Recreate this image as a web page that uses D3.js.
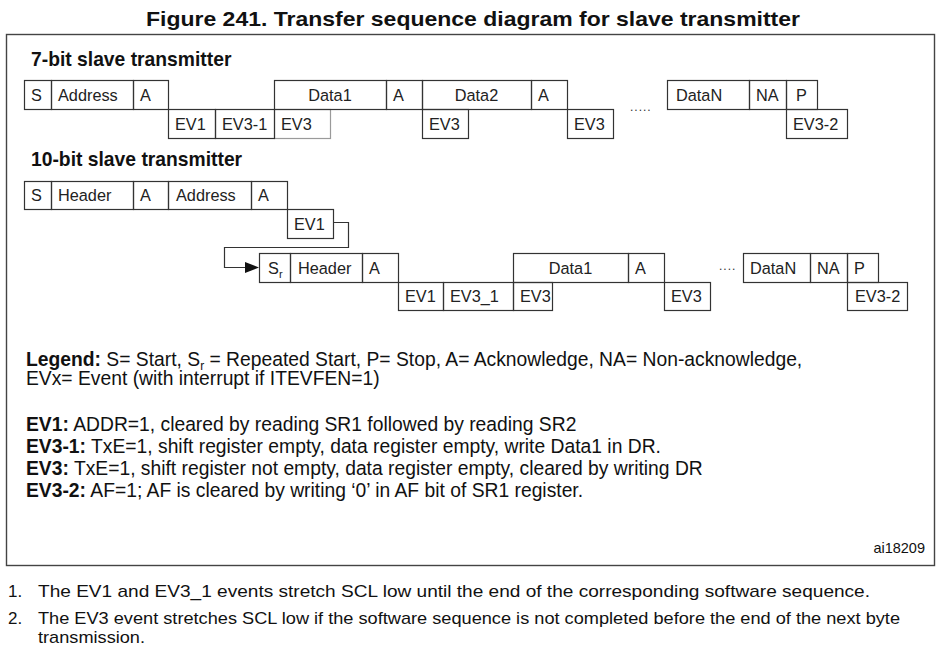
<!DOCTYPE html>
<html><head><meta charset="utf-8">
<script src="https://cdn.jsdelivr.net/npm/d3@7"></script>
<style>
body{margin:0;background:#fff;}
svg{display:block;}
.box{font-family:"Liberation Sans",Arial,sans-serif;font-size:16.3px;fill:#222;}
</style></head>
<body>
<svg id="c" width="941" height="649"></svg>
<script>
// ---------- data ----------
const titleText = "Figure 241. Transfer sequence diagram for slave transmitter";
const section7 = "7-bit slave transmitter";
const section10 = "10-bit slave transmitter";
// [label, start, end, align]  (start/end in diagram units along the bus timeline)
const seq7Bytes = [["S",24,51],["Address",51,133],["A",133,168],["Data1",274,386,"c"],["A",386,422],["Data2",422,531,"c"],["A",531,567],["DataN",667,749,"l9"],["NA",749,786],["P",786,817,"l10"]];
const seq7Events = [["EV3",274,330,"g"],["EV1",168,215],["EV3-1",215,274],["EV3",422,468],["EV3",567,613],["EV3-2",786,847]];
const seq10Bytes1 = [["S",24,51],["Header",51,133],["A",133,168],["Address",168,251,"l8"],["A",251,287]];
const seq10Events1 = [["EV1",287,333]];
const seq10Bytes2 = [["Sr",259,290,"l9"],["Header",290,362,"l8"],["A",362,398],["Data1",513,628,"c"],["A",628,664],["DataN",743,810],["NA",810,847],["P",847,878]];
const seq10Events2 = [["EV1",398,443],["EV3_1",443,513],["EV3",513,552],["EV3",664,710],["EV3-2",847,907,"l8"]];
const legendLines = [
  [["Legend:","b"],[" S= Start, S",""],["r","sub"],[" = Repeated Start, P= Stop, A= Acknowledge, NA= Non-acknowledge,","after"]],
  [["EVx= Event (with interrupt if ITEVFEN=1)",""]]
];
const eventLines = [
  ["EV1:"," ADDR=1, cleared by reading SR1 followed by reading SR2"],
  ["EV3-1:"," TxE=1, shift register empty, data register empty, write Data1 in DR."],
  ["EV3:"," TxE=1, shift register not empty, data register empty, cleared by writing DR"],
  ["EV3-2:"," AF=1; AF is cleared by writing \u20180\u2019 in AF bit of SR1 register."]
];
const figId = "ai18209";
const notes = [
  ["1.","The EV1 and EV3_1 events stretch SCL low until the end of the corresponding software sequence."],
  ["2.","The EV3 event stretches SCL low if the software sequence is not completed before the end of the next byte"],
  ["","transmission."]
];

// ---------- drawing ----------
const svg = d3.select("#c");
const x = d3.scaleLinear().domain([0,941]).range([0,941]);
const rowY = d3.scaleOrdinal().domain(["r1","r1e","r2","r2e","r3","r3e"])
  .range([[80,109],[109,138],[181,209],[209,238],[253,282],[282,310]]);

// title
svg.append("text").attr("x",146).attr("y",26)
  .attr("textLength",654).attr("lengthAdjust","spacingAndGlyphs")
  .style("font-family","'Liberation Sans Narrow','Arial Narrow','Liberation Sans',sans-serif")
  .style("font-weight","bold").style("font-size","21px").style("fill","#111")
  .text(titleText);

// frame
svg.append("rect").attr("x",6.5).attr("y",34.5).attr("width",928).attr("height",531)
  .attr("fill","none").attr("stroke","#444").attr("stroke-width",1.4);

// section headings
[[section7,66],[section10,166]].forEach(([t,y])=>{
  svg.append("text").attr("x",31).attr("y",y)
    .style("font-family","'Liberation Sans',Arial,sans-serif").style("font-weight","bold")
    .style("font-size","19.3px").style("fill","#111").text(t);
});

function drawRow(data,key){
  const [y0,y1] = rowY(key);
  const g = svg.append("g");
  data.forEach(d=>{
    const [lab,a,b,al] = d;
    const gray = al==="g";
    g.append("rect").attr("x",x(a)+0.5).attr("y",y0+0.5)
      .attr("width",x(b)-x(a)).attr("height",y1-y0)
      .attr("fill","none").attr("stroke",gray?"#9a9a9a":"#333").attr("stroke-width",1.2);
  });
  data.forEach(d=>{
    const [lab,a,b,al] = d;
    let tx, anchor="start";
    if(al==="c"){tx=(x(a)+x(b))/2; anchor="middle";}
    else if(al && al[0]==="l"){tx=x(a)+(+al.slice(1));}
    else tx=x(a)+7;
    const t = g.append("text").attr("class","box").attr("x",tx).attr("y",y1-8)
      .attr("text-anchor",anchor);
    if(lab==="Sr"){
      t.append("tspan").text("S");
      t.append("tspan").attr("dy",4).style("font-size","11px").text("r");
    } else t.text(lab);
  });
}
drawRow(seq7Events,"r1e");
drawRow(seq7Bytes,"r1");
drawRow(seq10Bytes1,"r2");
drawRow(seq10Events1,"r2e");
drawRow(seq10Events2,"r3e");
drawRow(seq10Bytes2,"r3");

// ellipses
[[630,111,"....."],[719,270,"...."]].forEach(([a,y,t])=>{
  svg.append("text").attr("x",x(a)).attr("y",y)
    .style("font-family","'Liberation Sans',Arial,sans-serif").style("font-size","12px")
    .style("fill","#333").style("letter-spacing","1px").text(t);
});

// repeated-start connector
const line = d3.line();
svg.append("path").attr("d",line([[x(333),222.5],[x(348)+0.5,222.5],[x(348)+0.5,247.5],[x(224)+0.5,247.5],[x(224)+0.5,267.5],[x(246),267.5]]))
  .attr("fill","none").attr("stroke","#333").attr("stroke-width",1.2);
svg.append("path").attr("d",line([[x(245),262],[x(259),267.5],[x(245),273]])+"Z").attr("fill","#111");

// legend
const lf = "'Liberation Sans',Arial,sans-serif";
const legendY = [366,385];
legendLines.forEach((parts,i)=>{
  const t = svg.append("text").attr("x",26).attr("y",legendY[i])
    .style("font-family",lf).style("font-size","19.3px").style("fill","#111");
  parts.forEach(([s,k])=>{
    const sp = t.append("tspan").text(s);
    if(k==="b") sp.style("font-weight","bold");
    if(k==="sub") sp.attr("dy",4).style("font-size","12px");
    if(k==="after") sp.attr("dy",-4);
  });
});
eventLines.forEach(([b,s],i)=>{
  const t = svg.append("text").attr("x",26).attr("y",431+i*22)
    .style("font-family",lf).style("font-size","19.3px").style("fill","#111");
  t.append("tspan").style("font-weight","bold").text(b);
  t.append("tspan").text(s);
});
svg.append("text").attr("x",925).attr("y",553).attr("text-anchor","end")
  .style("font-family",lf).style("font-size","14.5px").style("fill","#111").text(figId);

// notes
const nf = "'Liberation Sans Narrow','Arial Narrow','Liberation Sans',sans-serif";
const noteY = [597,624,643];
const noteW = [832,862,107];
notes.forEach(([n,s],i)=>{
  if(n) svg.append("text").attr("x",8).attr("y",noteY[i])
    .style("font-family",nf).style("font-size","17px").style("fill","#111").text(n);
  svg.append("text").attr("x",38).attr("y",noteY[i])
    .attr("textLength",noteW[i]).attr("lengthAdjust","spacingAndGlyphs")
    .style("font-family",nf).style("font-size","17px").style("fill","#111").text(s);
});
</script>
</body></html>
